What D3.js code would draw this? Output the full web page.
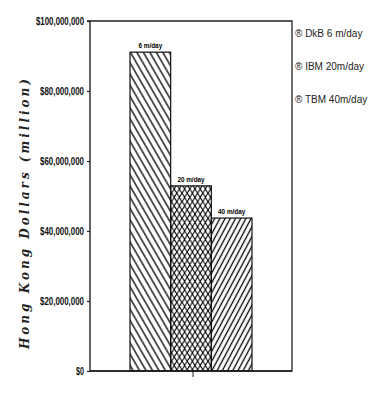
<!DOCTYPE html>
<html>
<head>
<meta charset="utf-8">
<script src="https://cdn.jsdelivr.net/npm/d3@7"></script>
<style>
  body { margin: 0; background: #fff; }
  svg { display: block; }
</style>
</head>
<body>
<svg id="chart" width="380" height="401"></svg>
<script>
// data
const categories = ["DkB 6 m/day", "IBM 20m/day", "TBM 40m/day"];
const barLabels = ["6 m/day", "20 m/day", "40 m/day"];
const costs = [91100000, 52900000, 43700000];
const yTicks = [0, 20000000, 40000000, 60000000, 80000000, 100000000];
const patterns = ["hatch-back", "hatch-cross", "hatch-fwd"];

const svg = d3.select("#chart");
const margin = { top: 21, right: 88, bottom: 30, left: 90 };
const width = 380;
const height = 401;

const y = d3.scaleLinear()
  .domain([0, 100000000])
  .range([height - margin.bottom, margin.top]);

const x = d3.scaleBand()
  .domain(categories)
  .range([130, 252])
  .padding(0);

// --- hatch patterns ---
const defs = svg.append("defs");

const back = defs.append("pattern")
  .attr("id", "hatch-back")
  .attr("patternUnits", "userSpaceOnUse")
  .attr("width", 5.6).attr("height", 10)
  .attr("patternTransform", "rotate(-30)");
back.append("line")
  .attr("x1", 2.8).attr("y1", 0).attr("x2", 2.8).attr("y2", 10)
  .attr("stroke", "#000").attr("stroke-width", 1.3);

const fwd = defs.append("pattern")
  .attr("id", "hatch-fwd")
  .attr("patternUnits", "userSpaceOnUse")
  .attr("width", 4.6).attr("height", 10)
  .attr("patternTransform", "rotate(28)");
fwd.append("line")
  .attr("x1", 2.3).attr("y1", 0).attr("x2", 2.3).attr("y2", 10)
  .attr("stroke", "#000").attr("stroke-width", 1.3);

const cross = defs.append("pattern")
  .attr("id", "hatch-cross")
  .attr("patternUnits", "userSpaceOnUse")
  .attr("width", 5.2).attr("height", 8.4);
cross.append("path")
  .attr("d", "M0,0 L5.2,8.4 M5.2,0 L0,8.4 M-2.6,4.2 L0,0 M7.8,4.2 L5.2,0")
  .attr("stroke", "#000").attr("stroke-width", 1.1)
  .attr("fill", "none");

// --- frame: top and right edges ---
const frame = svg.append("g")
  .attr("stroke", "#222").attr("stroke-width", 1.3).attr("fill", "none");
frame.append("path")
  .attr("d", `M${margin.left},${y(100000000)} H292 V${y(0)} H${margin.left}`);

// --- bars ---
svg.append("g")
  .selectAll("rect")
  .data(costs)
  .enter()
  .append("rect")
  .attr("x", (d, i) => x(categories[i]))
  .attr("y", (d) => y(d))
  .attr("width", x.bandwidth())
  .attr("height", (d) => y(0) - y(d))
  .attr("fill", (d, i) => `url(#${patterns[i]})`)
  .attr("stroke", "#111")
  .attr("stroke-width", 1.2);

svg.append("g")
  .selectAll("text")
  .data(costs)
  .enter()
  .append("text")
  .attr("x", (d, i) => x(categories[i]) + x.bandwidth() / 2)
  .attr("y", (d) => y(d) - 4)
  .attr("text-anchor", "middle")
  .attr("font-family", "'Liberation Sans', sans-serif")
  .attr("font-weight", "bold")
  .attr("font-size", 7.5)
  .attr("textLength", (d, i) => barLabels[i].length * 3.4)
  .attr("lengthAdjust", "spacingAndGlyphs")
  .attr("fill", "#000")
  .text((d, i) => barLabels[i]);

// --- y axis ---
const fmt = d3.format(",.0f");
const yAxis = svg.append("g")
  .attr("transform", `translate(${margin.left},0)`)
  .call(
    d3.axisLeft(y)
      .tickValues(yTicks)
      .tickSize(3)
      .tickPadding(3)
      .tickFormat((d) => "$" + fmt(d))
  );
yAxis.select(".domain").attr("stroke", "#222").attr("stroke-width", 1.4)
  .attr("d", `M-3,${y(100000000)}H0V${y(0) + 1}`);
yAxis.selectAll("line").attr("stroke", "#222").attr("stroke-width", 1.2);
yAxis.selectAll("text")
  .attr("font-family", "'Liberation Sans', sans-serif")
  .attr("font-weight", "bold")
  .attr("font-size", 10)
  .attr("textLength", function () { return this.textContent.length * 4.0; })
  .attr("lengthAdjust", "spacingAndGlyphs")
  .attr("fill", "#111");

// --- x axis: single tick under the middle bar ---
const xAxis = svg.append("g")
  .attr("transform", `translate(0,${y(0)})`)
  .call(
    d3.axisBottom(x)
      .tickValues([categories[1]])
      .tickSize(6)
      .tickFormat("")
  );
xAxis.select(".domain").attr("stroke", "#222").attr("stroke-width", 1.3)
  .attr("d", `M${margin.left},0H292`);
xAxis.selectAll("line").attr("stroke", "#222").attr("stroke-width", 1)
  .attr("transform", "translate(2,0)");

// --- y axis title ---
svg.append("text")
  .attr("transform", "translate(29,214) rotate(-90)")
  .attr("text-anchor", "middle")
  .attr("font-family", "'DejaVu Serif', serif")
  .attr("font-style", "italic")
  .attr("font-weight", "bold")
  .attr("font-size", 12)
  .attr("textLength", 270)
  .attr("lengthAdjust", "spacing")
  .attr("fill", "#222")
  .text("Hong Kong Dollars (million)");

// --- legend ---
svg.append("g")
  .selectAll("text")
  .data(categories)
  .enter()
  .append("text")
  .attr("x", 295)
  .attr("y", (d, i) => 37 + i * 33)
  .attr("font-family", "'Liberation Sans', sans-serif")
  .attr("font-size", 10)
  .attr("fill", "#222")
  .text((d) => "\u00AE " + d);
</script>
</body>
</html>
